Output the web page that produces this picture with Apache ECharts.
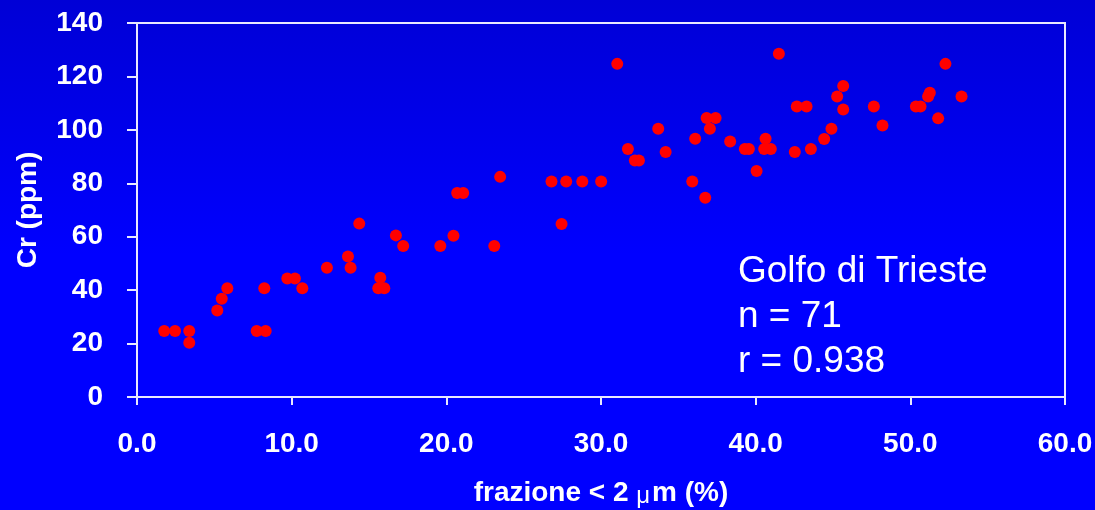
<!DOCTYPE html>
<html>
<head>
<meta charset="utf-8">
<script src="https://cdn.jsdelivr.net/npm/echarts@6/dist/echarts.min.js"></script>
<style>
html,body{margin:0;padding:0;background:#0000FF;}
#chart{width:1095px;height:510px;}
</style>
</head>
<body>
<div id="chart"></div>
<script>
// Fraction < 2 µm (%)
const fractionValues = [
  1.76, 2.46, 3.38, 3.38, 5.19, 5.48, 5.84, 7.74, 8.32, 8.23,
  9.72, 10.21, 10.69, 12.28, 13.64, 13.81, 14.37, 15.73, 15.6, 15.99,
  16.74, 17.21, 19.61, 20.46, 20.7, 21.09, 23.48, 23.1, 26.8, 27.75,
  27.45, 28.79, 30.01, 35.9, 36.74, 31.05, 31.74, 32.19, 32.45, 33.7,
  34.18, 36.09, 36.83, 37.41, 37.04, 38.35, 39.3, 39.56, 40.06, 40.64,
  40.55, 40.98, 41.5, 42.53, 42.66, 43.29, 43.57, 44.43, 44.9, 45.27,
  45.66, 45.66, 47.64, 48.2, 50.36, 50.66, 51.15, 51.26, 52.27, 51.8,
  53.31
];
// Cr (ppm)
const crValues = [
  24.7, 24.7, 24.7, 20.3, 32.4, 36.8, 40.7, 24.7, 24.7, 40.7,
  44.4, 44.4, 40.7, 48.4, 52.6, 48.4, 64.9, 44.6, 40.7, 40.7,
  60.5, 56.5, 56.5, 60.4, 76.4, 76.4, 82.4, 56.5, 80.7, 80.7,
  64.8, 80.7, 80.7, 80.7, 74.6, 124.7, 92.8, 88.5, 88.5, 100.4,
  91.7, 96.7, 104.4, 104.4, 100.4, 95.6, 92.8, 92.8, 84.6, 96.7,
  92.8, 92.8, 128.5, 91.7, 108.7, 108.7, 92.8, 96.6, 100.4, 112.5,
  116.4, 107.6, 108.7, 101.6, 108.7, 108.7, 112.5, 113.9, 124.7, 104.3,
  112.5
];
const annotationLines = ['Golfo di Trieste', 'n = 71', 'r = 0.938'];
const xAxisTitleParts = ['frazione < 2 ', 'μ', 'm (%)'];
const yAxisTitle = 'Cr (ppm)';

const points = fractionValues.map((x, i) => [x, crValues[i]]);

const chart = echarts.init(document.getElementById('chart'));
const FONT = '"Liberation Sans", Arial, sans-serif';
const labelFont = {color:'#FFFFFF', fontFamily:FONT, fontWeight:'bold', fontSize:28};

chart.setOption({
  backgroundColor: new echarts.graphic.LinearGradient(0,0,0,1,[
    {offset:0,color:'#0000D6'},{offset:0.5,color:'#0000FF'},{offset:1,color:'#0000FF'}
  ]),
  animation:false,
  grid:{left:137, right:30, top:23, bottom:113, containLabel:false, outerBoundsMode:'none',
        show:true, borderColor:'#E8E8FF', borderWidth:2, backgroundColor:'transparent'},
  xAxis:{
    type:'value', min:0, max:60, interval:10,
    name:'{a|' + xAxisTitleParts[0] + '}{u|' + xAxisTitleParts[1] + '}{a|' + xAxisTitleParts[2] + '}',
    nameLocation:'middle', nameGap:81,
    nameTextStyle:{
      color:'#FFFFFF', fontFamily:FONT, fontWeight:'bold', fontSize:28,
      rich:{
        a:{color:'#FFFFFF', fontFamily:FONT, fontWeight:'bold', fontSize:28},
        u:{color:'#FFFFFF', fontFamily:FONT, fontWeight:'normal', fontSize:24, padding:[6,2,0,0]}
      }
    },
    axisLine:{show:true, onZero:false, lineStyle:{color:'#E8E8FF', width:2}},
    axisTick:{show:true, inside:false, length:8, lineStyle:{color:'#E8E8FF', width:2}},
    axisLabel:Object.assign({}, labelFont, {margin:33, formatter:v=>v.toFixed(1)}),
    splitLine:{show:false}
  },
  yAxis:{
    type:'value', min:0, max:140, interval:20,
    name:yAxisTitle, nameLocation:'middle', nameGap:95, nameRotate:90,
    nameTextStyle:Object.assign({}, labelFont),
    axisLine:{show:true, onZero:false, lineStyle:{color:'#E8E8FF', width:2}},
    axisTick:{show:true, inside:false, length:10, lineStyle:{color:'#E8E8FF', width:2}},
    axisLabel:Object.assign({}, labelFont, {margin:34}),
    splitLine:{show:false}
  },
  graphic: annotationLines.map((t, i) => ({
    type:'text', left:738, top:253 + i*45, silent:true,
    style:{text:t, fill:'#FFFFFF', font:'37px ' + FONT}
  })),
  series:[{
    type:'scatter', data:points, symbol:'circle', symbolSize:12,
    itemStyle:{color:'#FF0000', opacity:1}
  }]
});
</script>
</body>
</html>
